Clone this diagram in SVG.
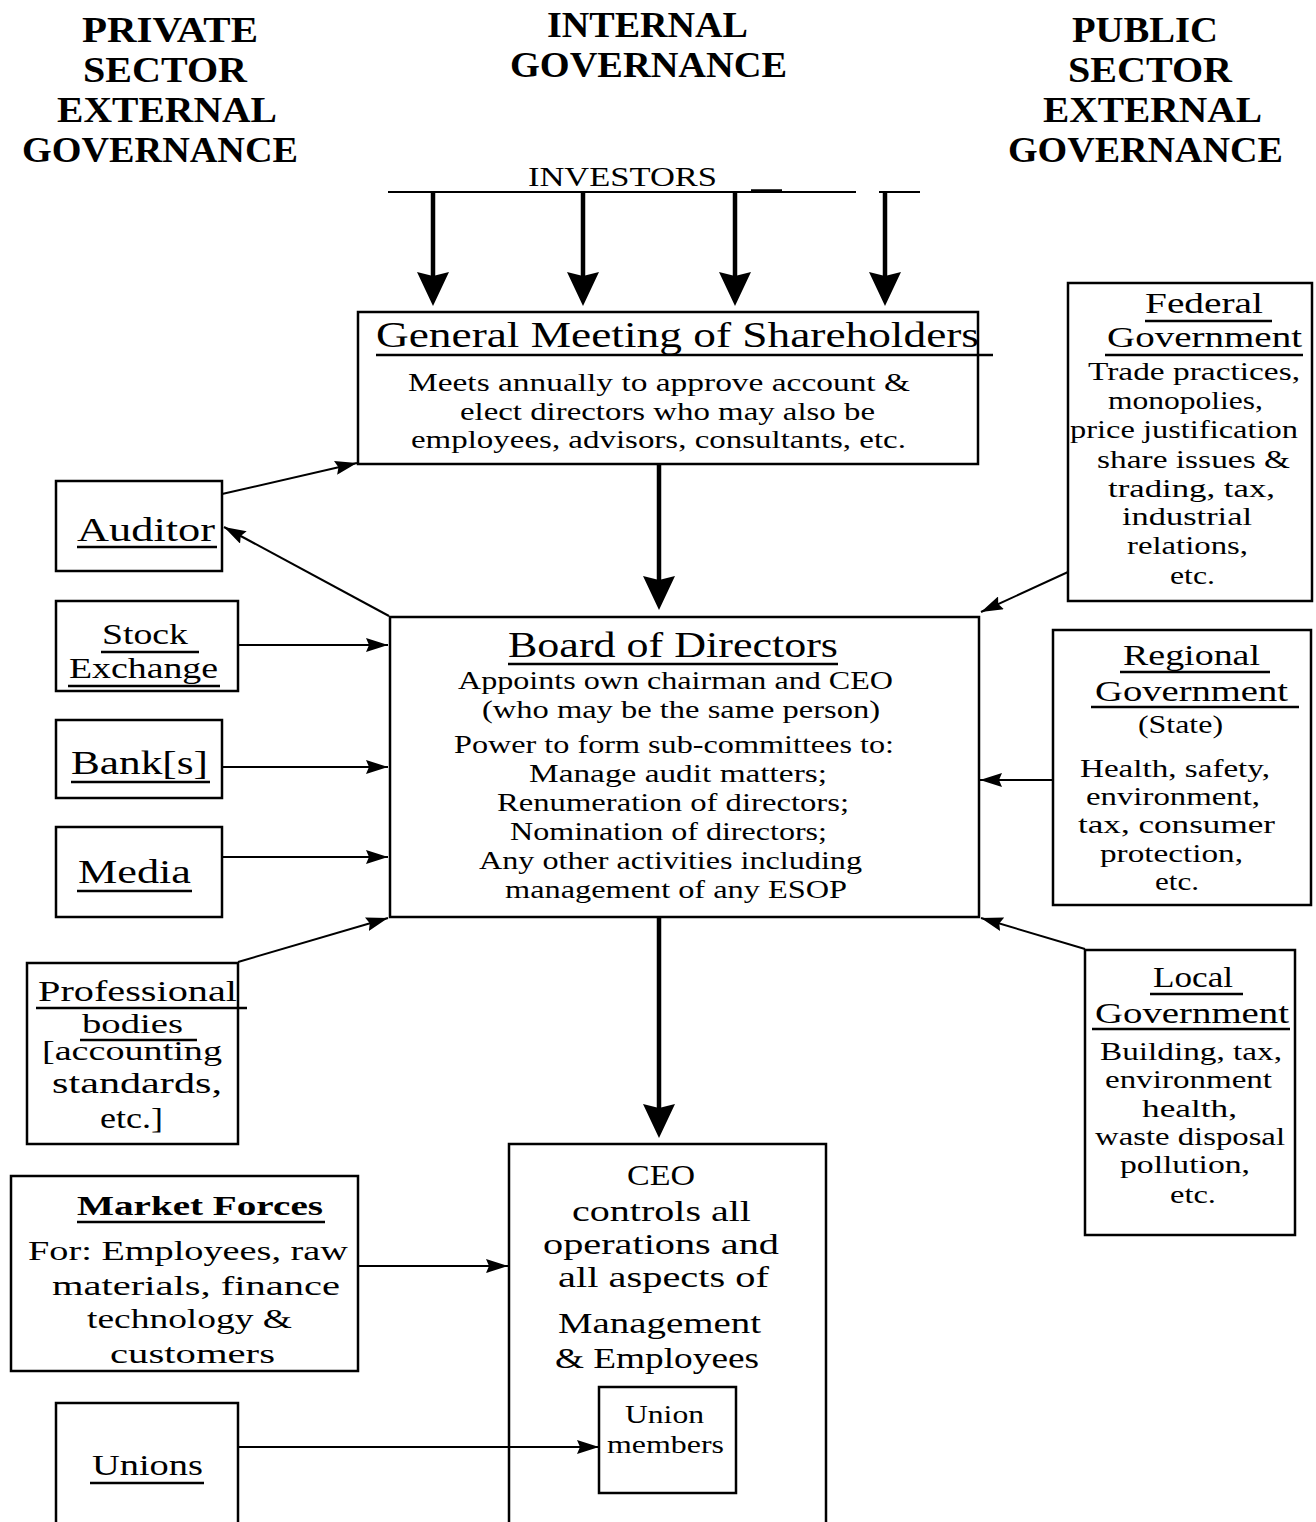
<svg xmlns="http://www.w3.org/2000/svg" width="1316" height="1522" viewBox="0 0 1316 1522">
  <style>
    .box { fill: #fff; stroke: #000; stroke-width: 2.5; }
    .t { font-family: "Liberation Serif", "Times New Roman", serif; fill: #000; }
    .hd { font-weight: bold; font-size: 36px; }
    .ttl { font-size: 34px; }
    .sub { font-size: 30px; }
    .bd { font-size: 25px; }
    .big { font-size: 30px; }
    .ul { stroke: #000; stroke-width: 2.5; }
    .conn { stroke: #000; stroke-width: 2; fill: none; }
    .thick { stroke: #000; stroke-width: 4.5; fill: none; }
  </style>
  <defs>
    <marker id="headBig" markerUnits="userSpaceOnUse" viewBox="0 0 34 32" markerWidth="34" markerHeight="32" refX="14" refY="16" orient="auto">
      <path d="M0,0 L34,16 L0,32 L4,16 z" fill="#000"/>
    </marker>
    <marker id="headSmall" markerUnits="userSpaceOnUse" viewBox="0 0 22 14" markerWidth="22" markerHeight="14" refX="22" refY="7" orient="auto">
      <path d="M0,0 L22,7 L0,14 L3,7 z" fill="#000"/>
    </marker>
  </defs>

  <rect width="1316" height="1522" fill="#fff"/>

  <!-- column headings -->
  <g id="heading-private" class="t hd">
    <text x="82" y="42" textLength="176" lengthAdjust="spacingAndGlyphs">PRIVATE</text>
    <text x="83" y="82" textLength="164" lengthAdjust="spacingAndGlyphs">SECTOR</text>
    <text x="57" y="122" textLength="220" lengthAdjust="spacingAndGlyphs">EXTERNAL</text>
    <text x="22" y="162" textLength="276" lengthAdjust="spacingAndGlyphs">GOVERNANCE</text>
  </g>
  <g id="heading-internal" class="t hd">
    <text x="547" y="37" textLength="201" lengthAdjust="spacingAndGlyphs">INTERNAL</text>
    <text x="510" y="77" textLength="277" lengthAdjust="spacingAndGlyphs">GOVERNANCE</text>
  </g>
  <g id="heading-public" class="t hd">
    <text x="1072" y="42" textLength="146" lengthAdjust="spacingAndGlyphs">PUBLIC</text>
    <text x="1068" y="82" textLength="164" lengthAdjust="spacingAndGlyphs">SECTOR</text>
    <text x="1043" y="122" textLength="219" lengthAdjust="spacingAndGlyphs">EXTERNAL</text>
    <text x="1008" y="162" textLength="275" lengthAdjust="spacingAndGlyphs">GOVERNANCE</text>
  </g>

  <!-- investors bar -->
  <g id="investors">
    <text class="t" x="528" y="186" font-size="28" textLength="189" lengthAdjust="spacingAndGlyphs">INVESTORS</text>
    <line class="conn" x1="388" y1="192" x2="856" y2="192"/>
    <line x1="751" y1="191" x2="782" y2="191" stroke="#000" stroke-width="3.5"/>
    <line class="conn" x1="879" y1="192" x2="920" y2="192"/>
  </g>

  <!-- internal governance -->
  <g id="general-meeting">
    <rect class="box" x="358" y="312" width="620" height="152"/>
    <text class="t" x="376" y="347" font-size="36" textLength="603" lengthAdjust="spacingAndGlyphs">General Meeting of Shareholders</text>
    <line class="ul" x1="376" y1="355" x2="993" y2="355"/>
    <text class="t bd" x="408" y="391" textLength="502" lengthAdjust="spacingAndGlyphs">Meets annually  to approve account &amp;</text>
    <text class="t bd" x="460" y="420" textLength="415" lengthAdjust="spacingAndGlyphs">elect directors  who may also be</text>
    <text class="t bd" x="411" y="448" textLength="495" lengthAdjust="spacingAndGlyphs">employees, advisors, consultants, etc.</text>
  </g>

  <g id="board">
    <rect class="box" x="390" y="617" width="589" height="300"/>
    <text class="t" x="508" y="657" font-size="36" textLength="330" lengthAdjust="spacingAndGlyphs">Board of Directors</text>
    <line class="ul" x1="508" y1="664" x2="838" y2="664"/>
    <text class="t bd" x="458" y="689" textLength="435" lengthAdjust="spacingAndGlyphs">Appoints own chairman and CEO</text>
    <text class="t bd" x="482" y="718" textLength="398" lengthAdjust="spacingAndGlyphs">(who may be the same person)</text>
    <text class="t bd" x="454" y="753" textLength="440" lengthAdjust="spacingAndGlyphs">Power to form sub-committees to:</text>
    <text class="t bd" x="529" y="782" textLength="298" lengthAdjust="spacingAndGlyphs">Manage audit matters;</text>
    <text class="t bd" x="497" y="811" textLength="352" lengthAdjust="spacingAndGlyphs">Renumeration of directors;</text>
    <text class="t bd" x="510" y="840" textLength="317" lengthAdjust="spacingAndGlyphs">Nomination of directors;</text>
    <text class="t bd" x="479" y="869" textLength="383" lengthAdjust="spacingAndGlyphs">Any other activities including</text>
    <text class="t bd" x="505" y="898" textLength="342" lengthAdjust="spacingAndGlyphs">management of any ESOP</text>
  </g>

  <g id="ceo">
    <rect class="box" x="509" y="1144" width="317" height="390"/>
    <text class="t big" x="627" y="1185" textLength="68" lengthAdjust="spacingAndGlyphs">CEO</text>
    <text class="t big" x="572" y="1221" textLength="179" lengthAdjust="spacingAndGlyphs">controls all</text>
    <text class="t big" x="543" y="1254" textLength="236" lengthAdjust="spacingAndGlyphs">operations and</text>
    <text class="t big" x="558" y="1287" textLength="211" lengthAdjust="spacingAndGlyphs">all aspects of</text>
    <text class="t big" x="558" y="1333" textLength="203" lengthAdjust="spacingAndGlyphs">Management</text>
    <text class="t big" x="555" y="1368" textLength="204" lengthAdjust="spacingAndGlyphs">&amp; Employees</text>
  </g>

  <g id="union-members">
    <rect class="box" x="599" y="1387" width="137" height="106"/>
    <text class="t bd" x="625" y="1423" textLength="79" lengthAdjust="spacingAndGlyphs">Union</text>
    <text class="t bd" x="607" y="1453" textLength="117" lengthAdjust="spacingAndGlyphs">members</text>
  </g>

  <!-- private sector external governance -->
  <g id="auditor">
    <rect class="box" x="56" y="481" width="166" height="90"/>
    <text class="t ttl" x="77" y="541" textLength="138" lengthAdjust="spacingAndGlyphs">Auditor</text>
    <line class="ul" x1="77" y1="547" x2="217" y2="547"/>
  </g>

  <g id="stock-exchange">
    <rect class="box" x="56" y="601" width="182" height="90"/>
    <text class="t sub" x="102" y="644" textLength="86" lengthAdjust="spacingAndGlyphs">Stock</text>
    <line class="ul" x1="101" y1="652" x2="199" y2="652"/>
    <text class="t sub" x="69" y="678" textLength="149" lengthAdjust="spacingAndGlyphs">Exchange</text>
    <line class="ul" x1="68" y1="686" x2="220" y2="686"/>
  </g>

  <g id="banks">
    <rect class="box" x="56" y="720" width="166" height="78"/>
    <text class="t ttl" x="71" y="774" textLength="137" lengthAdjust="spacingAndGlyphs">Bank[s]</text>
    <line class="ul" x1="71" y1="782" x2="210" y2="782"/>
  </g>

  <g id="media">
    <rect class="box" x="56" y="827" width="166" height="90"/>
    <text class="t ttl" x="78" y="883" textLength="113" lengthAdjust="spacingAndGlyphs">Media</text>
    <line class="ul" x1="77" y1="891" x2="192" y2="891"/>
  </g>

  <g id="professional-bodies">
    <rect class="box" x="27" y="963" width="211" height="181"/>
    <text class="t" x="38" y="1001" font-size="29" textLength="199" lengthAdjust="spacingAndGlyphs">Professional</text>
    <line class="ul" x1="36" y1="1008" x2="247" y2="1008"/>
    <text class="t" x="82" y="1033" font-size="28" textLength="101" lengthAdjust="spacingAndGlyphs">bodies</text>
    <line class="ul" x1="80" y1="1040" x2="197" y2="1040"/>
    <text class="t" x="42" y="1060" font-size="28" textLength="180" lengthAdjust="spacingAndGlyphs">[accounting</text>
    <text class="t" x="52" y="1093" font-size="29" textLength="170" lengthAdjust="spacingAndGlyphs">standards,</text>
    <text class="t" x="100" y="1128" font-size="29" textLength="63" lengthAdjust="spacingAndGlyphs">etc.]</text>
  </g>

  <g id="market-forces">
    <rect class="box" x="11" y="1176" width="347" height="195"/>
    <text class="t" x="77" y="1215" font-size="28" font-weight="bold" textLength="246" lengthAdjust="spacingAndGlyphs">Market Forces</text>
    <line class="ul" x1="77" y1="1222" x2="325" y2="1222"/>
    <text class="t" x="28" y="1260" font-size="28" textLength="320" lengthAdjust="spacingAndGlyphs">For: Employees, raw</text>
    <text class="t" x="52" y="1295" font-size="28" textLength="288" lengthAdjust="spacingAndGlyphs">materials, finance</text>
    <text class="t" x="87" y="1328" font-size="28" textLength="205" lengthAdjust="spacingAndGlyphs">technology &amp;</text>
    <text class="t" x="110" y="1363" font-size="28" textLength="165" lengthAdjust="spacingAndGlyphs">customers</text>
  </g>

  <g id="unions">
    <rect class="box" x="56" y="1403" width="182" height="130"/>
    <text class="t" x="92" y="1475" font-size="30" textLength="111" lengthAdjust="spacingAndGlyphs">Unions</text>
    <line class="ul" x1="90" y1="1483" x2="204" y2="1483"/>
  </g>

  <!-- public sector external governance -->
  <g id="federal-government">
    <rect class="box" x="1068" y="283" width="244" height="318"/>
    <text class="t sub" x="1145" y="313" textLength="118" lengthAdjust="spacingAndGlyphs">Federal</text>
    <line class="ul" x1="1145" y1="321" x2="1272" y2="321"/>
    <text class="t sub" x="1107" y="347" textLength="195" lengthAdjust="spacingAndGlyphs">Government</text>
    <line class="ul" x1="1105" y1="355" x2="1303" y2="355"/>
    <text class="t bd" x="1088" y="380" textLength="212" lengthAdjust="spacingAndGlyphs">Trade  practices,</text>
    <text class="t bd" x="1108" y="409" textLength="155" lengthAdjust="spacingAndGlyphs">monopolies,</text>
    <text class="t bd" x="1070" y="438" textLength="228" lengthAdjust="spacingAndGlyphs">price justification</text>
    <text class="t bd" x="1097" y="468" textLength="193" lengthAdjust="spacingAndGlyphs">share issues &amp;</text>
    <text class="t bd" x="1108" y="497" textLength="167" lengthAdjust="spacingAndGlyphs">trading,  tax,</text>
    <text class="t bd" x="1122" y="525" textLength="130" lengthAdjust="spacingAndGlyphs">industrial</text>
    <text class="t bd" x="1127" y="554" textLength="121" lengthAdjust="spacingAndGlyphs">relations,</text>
    <text class="t bd" x="1170" y="584" textLength="45" lengthAdjust="spacingAndGlyphs">etc.</text>
  </g>

  <g id="regional-government">
    <rect class="box" x="1053" y="630" width="258" height="275"/>
    <text class="t sub" x="1123" y="665" textLength="137" lengthAdjust="spacingAndGlyphs">Regional</text>
    <line class="ul" x1="1120" y1="672" x2="1270" y2="672"/>
    <text class="t sub" x="1095" y="701" textLength="193" lengthAdjust="spacingAndGlyphs">Government</text>
    <line class="ul" x1="1091" y1="707" x2="1299" y2="707"/>
    <text class="t bd" x="1138" y="733" textLength="85" lengthAdjust="spacingAndGlyphs">(State)</text>
    <text class="t bd" x="1080" y="777" textLength="190" lengthAdjust="spacingAndGlyphs">Health, safety,</text>
    <text class="t bd" x="1086" y="805" textLength="174" lengthAdjust="spacingAndGlyphs">environment,</text>
    <text class="t bd" x="1078" y="833" textLength="197" lengthAdjust="spacingAndGlyphs">tax,  consumer</text>
    <text class="t bd" x="1100" y="862" textLength="143" lengthAdjust="spacingAndGlyphs">protection,</text>
    <text class="t bd" x="1155" y="890" textLength="44" lengthAdjust="spacingAndGlyphs">etc.</text>
  </g>

  <g id="local-government">
    <rect class="box" x="1085" y="950" width="210" height="285"/>
    <text class="t sub" x="1153" y="987" textLength="80" lengthAdjust="spacingAndGlyphs">Local</text>
    <line class="ul" x1="1150" y1="994" x2="1243" y2="994"/>
    <text class="t sub" x="1095" y="1023" textLength="194" lengthAdjust="spacingAndGlyphs">Government</text>
    <line class="ul" x1="1092" y1="1029" x2="1290" y2="1029"/>
    <text class="t bd" x="1100" y="1060" textLength="182" lengthAdjust="spacingAndGlyphs">Building,  tax,</text>
    <text class="t bd" x="1105" y="1088" textLength="167" lengthAdjust="spacingAndGlyphs">environment</text>
    <text class="t bd" x="1142" y="1117" textLength="95" lengthAdjust="spacingAndGlyphs">health,</text>
    <text class="t bd" x="1095" y="1145" textLength="190" lengthAdjust="spacingAndGlyphs">waste disposal</text>
    <text class="t bd" x="1120" y="1173" textLength="130" lengthAdjust="spacingAndGlyphs">pollution,</text>
    <text class="t bd" x="1170" y="1203" textLength="46" lengthAdjust="spacingAndGlyphs">etc.</text>
  </g>

  <!-- connectors, drawn over the boxes so they reach into them -->
  <g id="connectors">
    <!-- investors to general meeting -->
    <line class="thick" x1="433" y1="192" x2="433" y2="286" marker-end="url(#headBig)"/>
    <line class="thick" x1="583" y1="192" x2="583" y2="286" marker-end="url(#headBig)"/>
    <line class="thick" x1="735" y1="192" x2="735" y2="286" marker-end="url(#headBig)"/>
    <line class="thick" x1="885" y1="192" x2="885" y2="286" marker-end="url(#headBig)"/>
    <!-- general meeting to board, board to CEO -->
    <line class="thick" x1="659" y1="464" x2="659" y2="590" marker-end="url(#headBig)"/>
    <line class="thick" x1="659" y1="917" x2="659" y2="1118" marker-end="url(#headBig)"/>
    <!-- private sector side -->
    <line class="conn" x1="222" y1="494" x2="357" y2="463" marker-end="url(#headSmall)"/>
    <line class="conn" x1="389" y1="616" x2="224" y2="527" marker-end="url(#headSmall)"/>
    <line class="conn" x1="238" y1="645" x2="388" y2="645" marker-end="url(#headSmall)"/>
    <line class="conn" x1="222" y1="767" x2="388" y2="767" marker-end="url(#headSmall)"/>
    <line class="conn" x1="222" y1="857" x2="388" y2="857" marker-end="url(#headSmall)"/>
    <line class="conn" x1="238" y1="962" x2="388" y2="918" marker-end="url(#headSmall)"/>
    <line class="conn" x1="358" y1="1266" x2="508" y2="1266" marker-end="url(#headSmall)"/>
    <line class="conn" x1="238" y1="1447" x2="599" y2="1447" marker-end="url(#headSmall)"/>
    <!-- public sector side -->
    <line class="conn" x1="1068" y1="572" x2="981" y2="612" marker-end="url(#headSmall)"/>
    <line class="conn" x1="1053" y1="780" x2="980" y2="780" marker-end="url(#headSmall)"/>
    <line class="conn" x1="1085" y1="949" x2="981" y2="918" marker-end="url(#headSmall)"/>
  </g>
</svg>
